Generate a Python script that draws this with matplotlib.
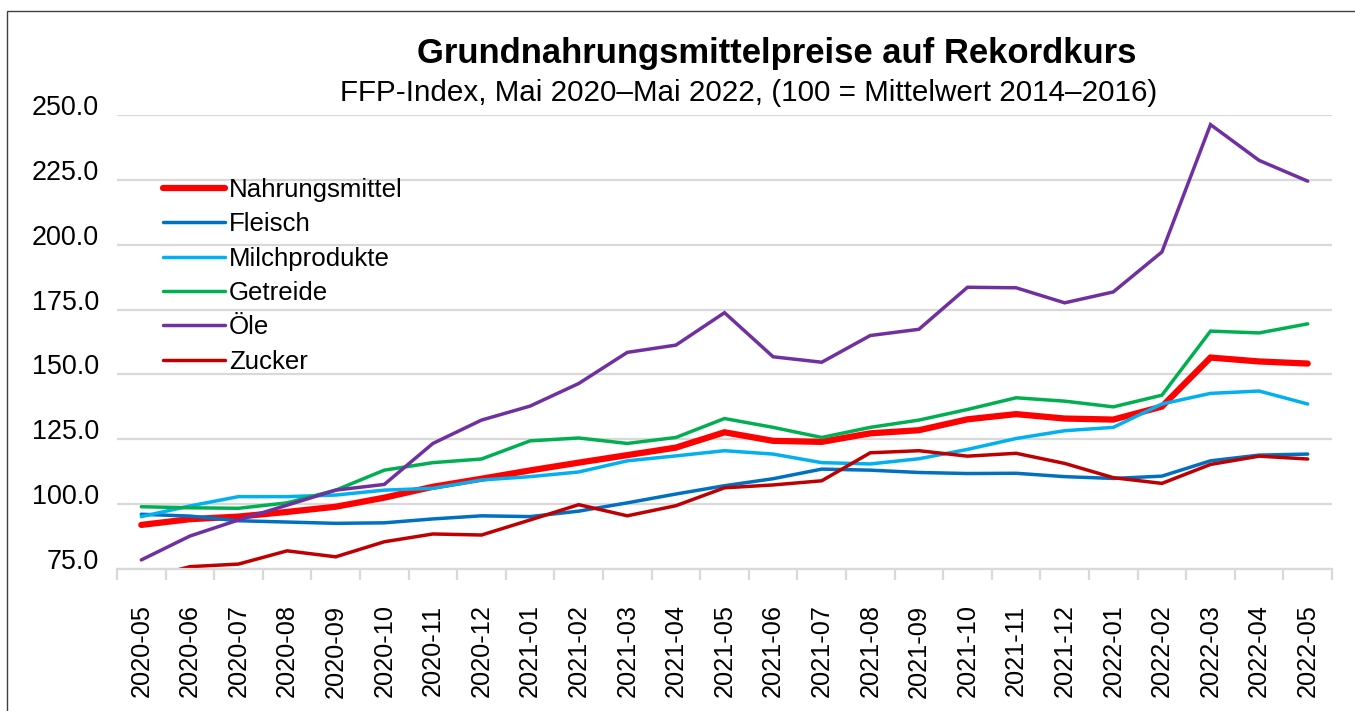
import matplotlib
matplotlib.use("Agg")
import matplotlib.pyplot as plt
from matplotlib.patches import Rectangle
import numpy as np

plt.rcParams['font.family'] = ['Liberation Sans', 'DejaVu Sans']
plt.rcParams['ytick.alignment'] = 'baseline'

months = ['2020-05', '2020-06', '2020-07', '2020-08', '2020-09', '2020-10',
          '2020-11', '2020-12', '2021-01', '2021-02', '2021-03', '2021-04',
          '2021-05', '2021-06', '2021-07', '2021-08', '2021-09', '2021-10',
          '2021-11', '2021-12', '2022-01', '2022-02', '2022-03', '2022-04',
          '2022-05']

nahrung = [92.0, 94.2, 95.2, 97.0, 99.0, 102.5, 106.7, 109.8, 113.0, 116.0, 118.9, 121.8,
           127.7, 124.4, 124.0, 127.3, 128.5, 132.7, 134.7, 133.0, 132.6, 137.6, 156.5, 155.0, 154.2]
fleisch = [96.1, 95.4, 93.6, 93.1, 92.6, 92.8, 94.3, 95.5, 95.2, 97.3, 100.5, 103.9,
           107.1, 109.8, 113.5, 113.1, 112.2, 111.8, 111.9, 110.6, 109.9, 110.8, 116.7, 118.9, 119.3]
milch = [95.2, 99.3, 102.9, 102.9, 103.5, 105.4, 106.1, 109.3, 110.6, 112.4, 116.7, 118.6,
         120.6, 119.3, 116.0, 115.5, 117.5, 121.1, 125.3, 128.3, 129.6, 138.6, 142.7, 143.6, 138.6]
getreide = [99.0, 98.6, 98.4, 100.5, 105.4, 113.1, 116.0, 117.4, 124.4, 125.5, 123.4, 125.7,
            133.0, 129.6, 125.7, 129.6, 132.4, 136.5, 141.0, 139.7, 137.5, 142.0, 166.7, 166.0, 169.5]
oele = [78.5, 87.7, 93.9, 99.6, 105.4, 107.6, 123.4, 132.4, 137.8, 146.5, 158.5, 161.3,
        173.8, 156.8, 154.7, 165.0, 167.4, 183.6, 183.4, 177.6, 181.8, 197.2, 246.3, 232.5, 224.5]
zucker = [71.0, 75.9, 76.9, 82.0, 79.7, 85.5, 88.5, 88.1, 93.9, 99.8, 95.5, 99.4,
          106.3, 107.4, 109.0, 119.8, 120.6, 118.5, 119.6, 115.7, 110.2, 108.0, 115.3, 118.5, 117.4]

labels = ['Nahrungsmittel', 'Fleisch', 'Milchprodukte', 'Getreide', 'Öle', 'Zucker']
colors = ['#FF0000', '#0070C0', '#00B0F0', '#00B050', '#7030A0', '#C00000']
widths = [4.5, 2.5, 2.5, 2.5, 2.5, 2.5]
series = [nahrung, fleisch, milch, getreide, oele, zucker]

fig = plt.figure(figsize=(13.55, 7.11), dpi=100)
ax = fig.add_axes([117 / 1355, 1 - 569 / 711, (1332 - 117) / 1355, (569 - 115) / 711])

x = np.arange(len(months))
for s, lab, c, w in zip(series, labels, colors, widths):
    ax.plot(x, s, color=c, lw=w, label=lab, solid_capstyle='round', solid_joinstyle='miter')

ax.set_xlim(-0.5, len(months) - 0.5)
ax.set_ylim(75, 250)
ax.set_yticks(np.arange(75, 251, 25))
ax.set_yticklabels(['%.1f' % v for v in np.arange(75, 251, 25)])
ax.yaxis.grid(True, color='#D9D9D9', lw=1.6)
ax.set_axisbelow(True)

ax.set_xticks(x)
ax.set_xticklabels(months, rotation=90)
ax.set_xticks(np.arange(-0.5, len(months), 1), minor=True)
ax.tick_params(axis='x', which='major', length=0, pad=25.5, labelsize=18.3)
ax.tick_params(axis='x', which='minor', length=8, width=1.6, color='#D9D9D9')
ax.tick_params(axis='y', length=0, pad=13, labelsize=19.4)

for sp in ['top', 'right', 'left']:
    ax.spines[sp].set_visible(False)
ax.spines['bottom'].set_color('#D9D9D9')
ax.spines['bottom'].set_linewidth(1.6)

ax.legend(loc='upper left', bbox_to_anchor=(0.0296, 0.884), frameon=False, fontsize=18.6,
          handlelength=2.4, handletextpad=0.15, labelspacing=0.40, borderaxespad=0)

fig.text(777 / 1355, 1 - 63 / 711, 'Grundnahrungsmittelpreise auf Rekordkurs',
         ha='center', va='baseline', fontsize=24.9, fontweight='bold')
fig.text(749 / 1355, 1 - 101 / 711, 'FFP-Index, Mai 2020–Mai 2022, (100 = Mittelwert 2014–2016)',
         ha='center', va='baseline', fontsize=21.3)

fig.patches.append(Rectangle((7.5 / 1355, -0.1), 1.2, 1.1 - 11 / 711, transform=fig.transFigure,
                             fill=False, edgecolor='#404040', lw=1))

fig.savefig('out.png', dpi=100)
